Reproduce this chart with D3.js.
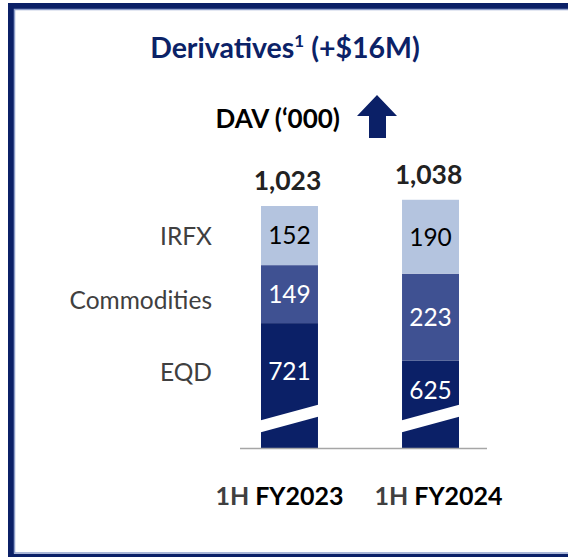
<!DOCTYPE html>
<html><head><meta charset="utf-8">
<script src="https://cdn.jsdelivr.net/npm/d3@7"></script>
<style>html,body{margin:0;padding:0;background:#fff;}svg{display:block;font-family:Lato,"Open Sans",sans-serif;}</style>
</head><body>
<script>
const periods = ["FY2023", "FY2024"];
const periodPrefix = ["1H", "1H"];
const seriesNames = ["EQD", "Commodities", "IRFX"];
const eqd = [721, 625];
const commodities = [149, 223];
const irfx = [152, 190];
const totals = [1023, 1038];
const colors = { EQD: "#0B2067", Commodities: "#3F5192", IRFX: "#B4C4DF" };

const W = 568, H = 557;
const svg = d3.select("body").append("svg").attr("width", W).attr("height", H);

// frame
svg.append("rect").attr("x", 11).attr("y", 6).attr("width", 620).attr("height", 551)
  .attr("fill", "none").attr("stroke", "#0B2067").attr("stroke-width", 6);
svg.append("rect").attr("x", 14.5).attr("y", 9.5).attr("width", 620).attr("height", 543.5)
  .attr("fill", "none").attr("stroke", "#8E9FCB").attr("stroke-width", 1.5);

// title
const title = svg.append("text").attr("x", 285).attr("y", 58).attr("text-anchor", "middle")
  .attr("fill", "#0B2267").attr("font-weight", 700).attr("font-size", 28.5);
title.append("tspan").text("Derivatives");
title.append("tspan").text("1").attr("font-size", 17).attr("dy", -11);
title.append("tspan").text(" (+$16M)").attr("dy", 11);

svg.append("text").attr("x", 340).attr("y", 128).attr("text-anchor", "end")
  .attr("font-weight", 700).attr("font-size", 26).attr("fill", "#000").text("DAV (‘000)");
// arrow
svg.append("path").attr("d", "M377,95 L397,116 L386,116 L386,138 L369,138 L369,116 L357,116 Z")
  .attr("fill", "#0B2067");

const data = periods.map((p, i) => ({ p, EQD: eqd[i], Commodities: commodities[i], IRFX: irfx[i], total: totals[i] }));

const x = d3.scaleBand().domain(periods).range([261, 459]).paddingInner(0.596).paddingOuter(0);
const y = d3.scaleLinear().domain([400, 1040]).range([448, 199]);
const breakBase = 400;

const layers = d3.stack().keys(seriesNames)(data);

const g = svg.append("g");
layers.forEach(layer => {
  g.selectAll(null).data(layer).enter().append("rect")
    .attr("x", d => x(d.data.p))
    .attr("width", x.bandwidth())
    .attr("y", d => y(d[1]))
    .attr("height", d => (layer.key === "EQD" ? y(breakBase) : y(d[0])) - y(d[1]))
    .attr("fill", colors[layer.key]);
});

// break band
const breakY = y(breakBase);
data.forEach(d => {
  const x0 = x(d.p) - 1, x1 = x(d.p) + x.bandwidth() + 1;
  svg.append("path")
    .attr("d", `M${x0},${breakY - 27.5} L${x1},${breakY - 43.5} L${x1},${breakY - 31.5} L${x0},${breakY - 15.5} Z`)
    .attr("fill", "#fff");
});

// axis line
svg.append("line").attr("x1", 240).attr("x2", 487).attr("y1", 448.5).attr("y2", 448.5)
  .attr("stroke", "#A6A6A6").attr("stroke-width", 1.3);

// value labels
const labelY = {};
layers.forEach(layer => {
  layer.forEach((d, i) => {
    let cy;
    if (layer.key === "EQD") cy = (y(d[1]) + (breakY - 28)) / 2;
    else cy = (y(d[0]) + y(d[1])) / 2;
    if (i === 0) labelY[layer.key] = cy;
    svg.append("text").attr("x", x(d.data.p) + x.bandwidth() / 2).attr("y", cy)
      .attr("dy", "0.36em").attr("text-anchor", "middle").attr("font-size", 24.5)
      .attr("fill", layer.key === "IRFX" ? "#000" : "#fff")
      .text(d.data[layer.key]);
  });
});

// series labels
seriesNames.forEach(s => {
  svg.append("text").attr("x", 212).attr("y", labelY[s] + (s === "Commodities" ? 6 : 1))
    .attr("dy", "0.36em").attr("text-anchor", "end").attr("font-size", 24.5)
    .attr("fill", "#404040").text(s);
});

// totals
data.forEach(d => {
  svg.append("text").attr("x", x(d.p) + x.bandwidth() / 2 - 2).attr("y", y(d.total) - 16)
    .attr("text-anchor", "middle").attr("font-weight", 700).attr("font-size", 26.5)
    .attr("fill", "#222").text(d3.format(",")(d.total));
});

// category labels
data.forEach((d, i) => {
  const t = svg.append("text").attr("x", x(d.p) + x.bandwidth() / 2 + (i === 0 ? -10 : 8)).attr("y", 505)
    .attr("text-anchor", "middle").attr("font-weight", 700).attr("font-size", 25);
  t.append("tspan").attr("fill", "#404040").text(periodPrefix[i] + " ");
  t.append("tspan").attr("fill", "#000").text(d.p);
});
</script>
</body></html>
